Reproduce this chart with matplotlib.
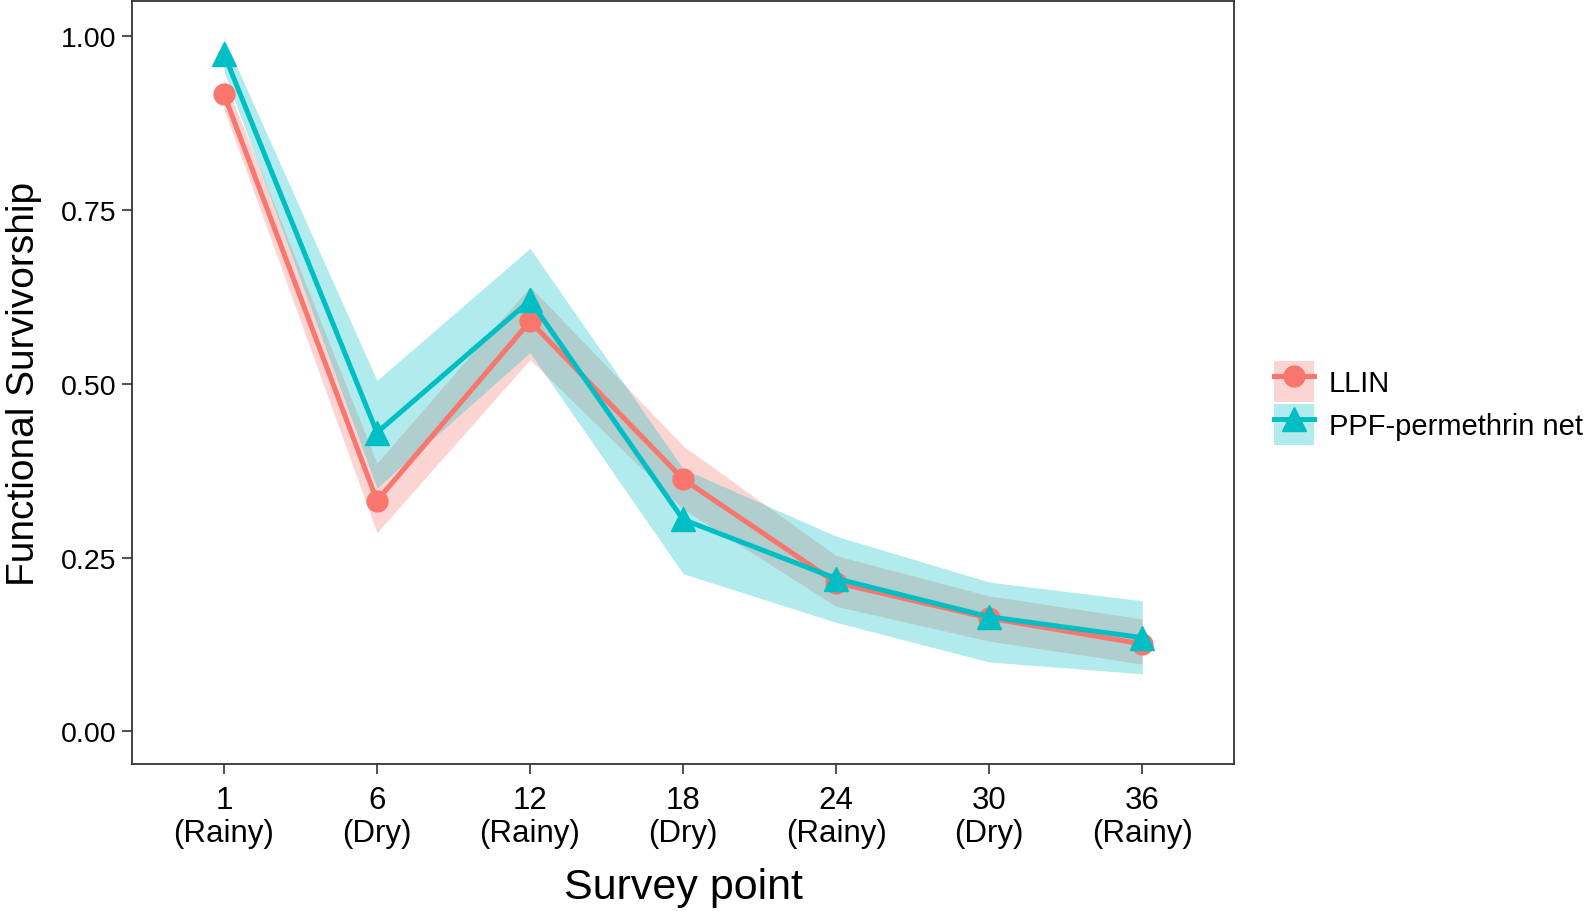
import matplotlib
matplotlib.use("Agg")
import matplotlib.pyplot as plt
from matplotlib.patches import Patch
from matplotlib.lines import Line2D
from matplotlib.font_manager import findfont, FontProperties

# survey points
months = ["1", "6", "12", "18", "24", "30", "36"]
seasons = ["Rainy", "Dry", "Rainy", "Dry", "Rainy", "Dry", "Rainy"]

# LLIN
llin_mean = [0.917, 0.332, 0.590, 0.363, 0.214, 0.163, 0.126]
llin_low = [0.895, 0.286, 0.535, 0.320, 0.180, 0.130, 0.097]
llin_high = [0.940, 0.386, 0.640, 0.411, 0.253, 0.195, 0.162]

# PPF-permethrin net
ppf_mean = [0.975, 0.430, 0.620, 0.305, 0.220, 0.165, 0.135]
ppf_low = [0.950, 0.350, 0.545, 0.227, 0.157, 0.100, 0.083]
ppf_high = [0.998, 0.505, 0.695, 0.378, 0.281, 0.215, 0.188]

col_llin = "#F8766D"
col_ppf = "#00BFC4"

# condensed font for the x axis if available
narrow = "Liberation Sans Narrow"
try:
    findfont(FontProperties(family=narrow), fallback_to_default=False)
except Exception:
    narrow = "Liberation Sans"

plt.rcParams["font.family"] = ["Liberation Sans", "DejaVu Sans"]

fig = plt.figure(figsize=(15.95, 9.12), dpi=100)
ax = fig.add_axes([0.0828, 0.161, 0.6909, 0.8370])

x = list(range(len(months)))

ax.fill_between(x, llin_low, llin_high, color=col_llin, alpha=0.3, lw=0)
ax.plot(x, llin_mean, color=col_llin, lw=3.6, marker="o", markersize=15)
ax.fill_between(x, ppf_low, ppf_high, color=col_ppf, alpha=0.3, lw=0)
ax.plot(x, ppf_mean, color=col_ppf, lw=3.6, marker="^", markersize=17)

ax.set_xlim(-0.6, 6.6)
ax.set_ylim(-0.047, 1.051)
ax.set_yticks([0, 0.25, 0.5, 0.75, 1.0])
ax.set_yticklabels(["0.00", "0.25", "0.50", "0.75", "1.00"], fontsize=20.5)
ax.set_xticks(x)
ax.set_xticklabels([f"{m}\n({s})" for m, s in zip(months, seasons)],
                   fontsize=22.5, family=narrow)
for t in ax.get_xticklabels():
    t.set_linespacing(1.12)

ax.tick_params(axis="both", direction="out", length=7, width=1.2,
               color="#333333", pad=4)
ax.tick_params(axis="x", pad=8)
for s in ax.spines.values():
    s.set_color("#333333")
    s.set_linewidth(1.3)

ax.set_ylabel("Functional Survivorship", fontsize=28, labelpad=14)
ax.set_xlabel("Survey point", fontsize=31, family=narrow, labelpad=14)

handles = [
    (Patch(facecolor=col_llin, alpha=0.3, lw=0),
     Line2D([], [], color=col_llin, lw=3.6, marker="o", markersize=15)),
    (Patch(facecolor=col_ppf, alpha=0.3, lw=0),
     Line2D([], [], color=col_ppf, lw=3.6, marker="^", markersize=17)),
]
fig.legend(handles, ["LLIN", "PPF-permethrin net"], loc="center left",
           bbox_to_anchor=(0.7985, 0.557), frameon=False, fontsize=21,
           handlelength=1.4, handleheight=1.75, labelspacing=0.1,
           handletextpad=0.5, borderpad=0, borderaxespad=0)

fig.savefig("out.png", dpi=100)
